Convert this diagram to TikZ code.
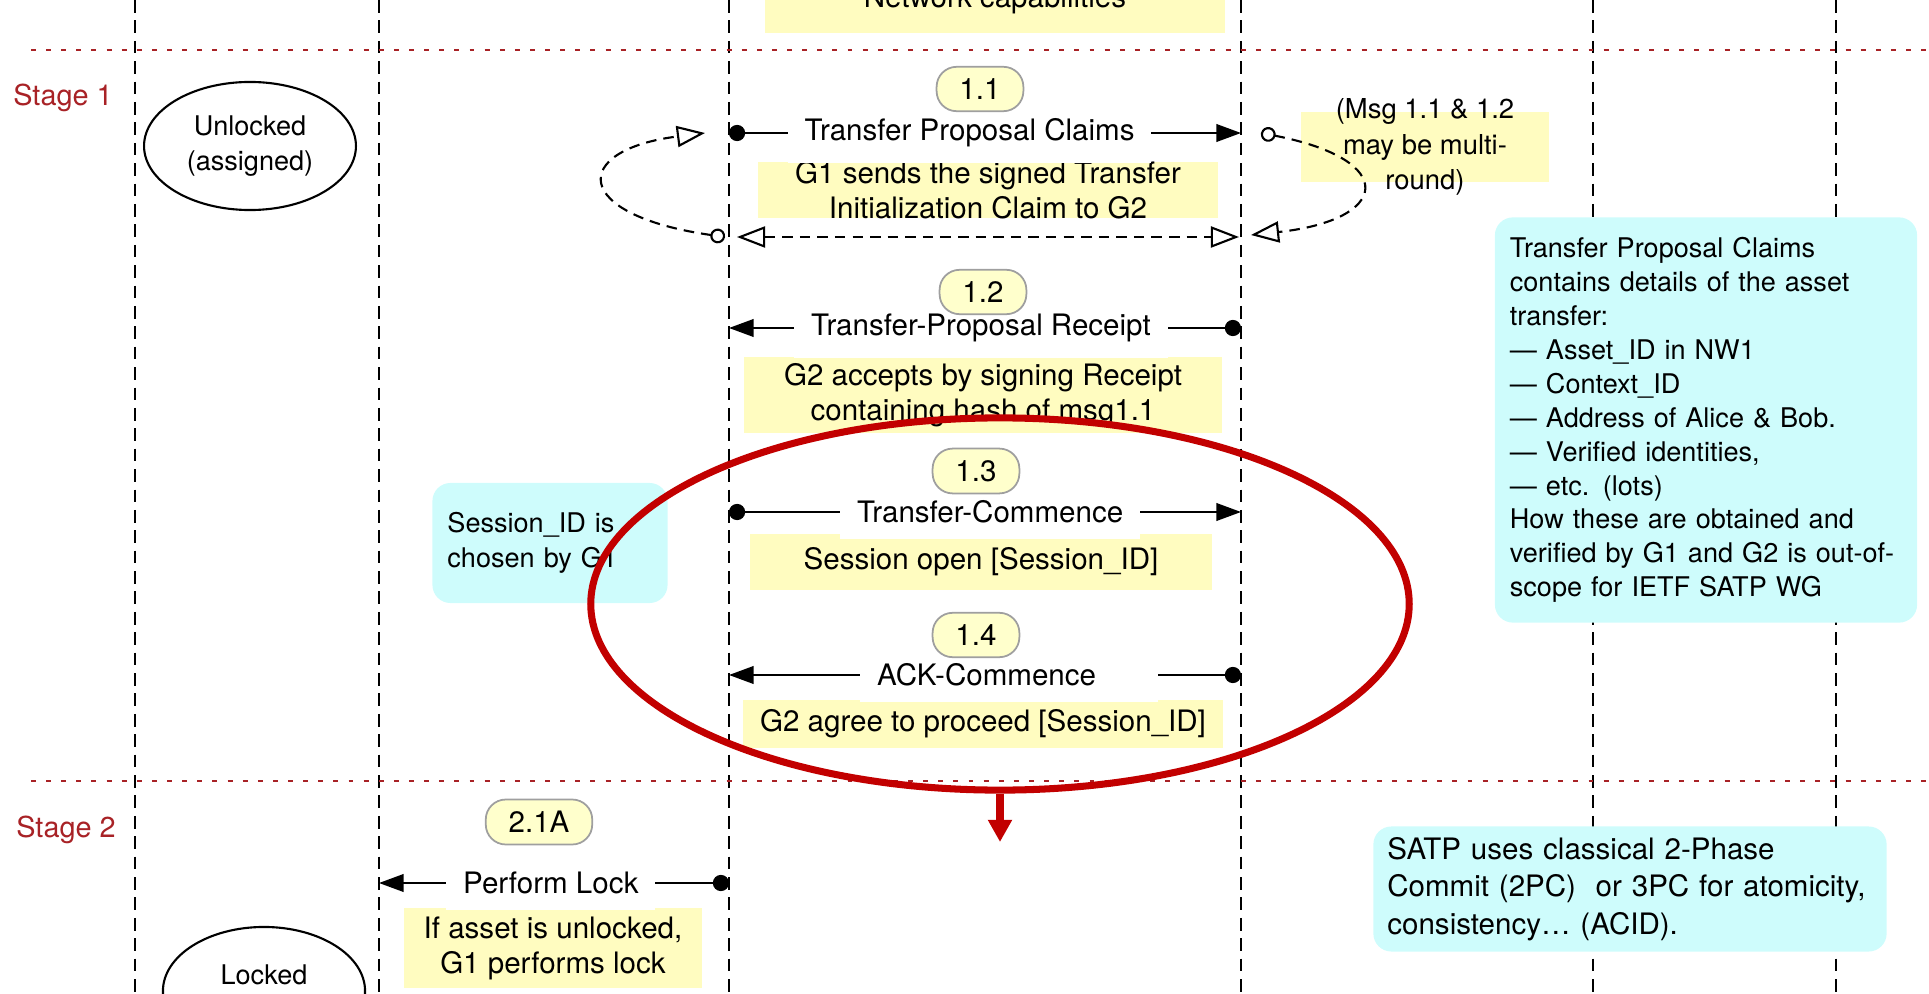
\documentclass[tikz,border=0pt]{standalone}
\usepackage{fontspec}
\setmainfont{TeX Gyre Heros}
\usetikzlibrary{shapes, positioning, arrows.meta}
\definecolor{stagered}{RGB}{168,34,38}
\definecolor{notey}{RGB}{255,252,192}
\definecolor{tagy}{RGB}{255,255,204}
\definecolor{cyanbox}{RGB}{206,252,252}
\definecolor{ringred}{RGB}{194,0,0}

\begin{document}
\begin{tikzpicture}[x=0.01cm,y=-0.01cm,>={Triangle[length=7pt,width=5pt]},
    ball/.tip={Circle[length=4.6pt]},
    ring/.tip={Circle[open,length=4.2pt]},
    hollow/.tip={Triangle[open,length=8pt,width=6pt]},
    lifeline/.style={line width=.6pt,dash pattern=on 3.6pt off 2.2pt},
    stage line/.style={stagered,line width=.6pt,dash pattern=on 1.4pt off 2.9pt},
    stage/.style={text=stagered,font=\fontsize{8.2}{10}\selectfont},
    status/.style={ellipse,draw,line width=.6pt,minimum width=2.02cm,minimum height=1.28cm,
                   align=center,font=\fontsize{7.7}{10}\selectfont},
    tag/.style={rounded corners=.2cm,draw=gray!75,fill=tagy,line width=.5pt,minimum height=.42cm,
                inner xsep=6.5pt,font=\fontsize{8.4}{10}\selectfont},
    note/.style={fill=notey,inner sep=0pt,inner ysep=-6pt,align=center,font=\fontsize{8.4}{10}\selectfont},
    memo/.style={fill=cyanbox,rounded corners=.18cm,align=left,inner xsep=.15cm,inner ysep=-6pt},
    msg/.style={line width=.6pt},
    msgtext/.style={fill=white,inner xsep=4.8pt,inner ysep=4.5pt,font=\fontsize{8.4}{10}\selectfont},
    retry/.style={line width=.6pt,dash pattern=on 3pt off 2pt}]

  \clip (0,0) rectangle (1929,994);

  \foreach \x in {135,379,729,1241,1593,1836}
    \draw[lifeline] (\x,0) -- (\x,994);
  \draw[stage line] (31,50) -- (1929,50);
  \draw[stage line] (31,781) -- (1929,781);

  \node[stage] (s1) at (63,98) {Stage 1};
  \node[stage] (s2) at (66,830) {Stage 2};

  \node[status] (unlocked) at (250,146) {Unlocked\\(assigned)};
  \node[status, text height=6pt, text depth=9.6pt] (locked) at (264,991) {Locked};

  % side remarks
  \node[memo, text width=3.92cm, minimum height=4.05cm, font=\fontsize{7.7}{9.65}\selectfont] (claims) at (1706,420)
    {Transfer Proposal Claims\\contains details of the asset\\transfer:\\— Asset\_ID in NW1\\— Context\_ID\\
     — Address of Alice \& Bob.\\— Verified identities,\\— etc. (lots)\\How these are obtained and\\
     verified by G1 and G2 is out-of-\\scope for IETF SATP WG};
  \node[memo, text width=2.05cm, minimum height=1.2cm, font=\fontsize{7.7}{10}\selectfont] (sid) at (550,543)
    {Session\_ID is\\chosen by G1};
  \node[memo, text width=4.85cm, inner xsep=.14cm, minimum height=1.25cm, font=\fontsize{8.4}{10.7}\selectfont] (satp) at (1630,889)
    {SATP uses classical 2-Phase\\Commit (2PC)\ \ or 3PC for atomicity,\\consistency… (ACID).};

  \node[note, inner ysep=0pt, minimum width=4.59cm, anchor=base, text height=20pt, text depth=7.2pt] (n0) at (995,8) {Network capabilities};
  \node[note, minimum width=4.6cm, minimum height=.55cm] (n11) at (988,190) {G1 sends the signed Transfer\\Initialization Claim to G2};
  \node[note, minimum width=4.78cm, minimum height=.76cm] (n12) at (983,395) {G2 accepts by signing Receipt\\containing hash of msg1.1};
  \node[note, minimum width=4.61cm, minimum height=.55cm] (n13) at (981,562) {Session open [Session\_ID]};
  \node[note, minimum width=4.79cm, minimum height=.48cm] (n14) at (983,724) {G2 agree to proceed [Session\_ID]};
  \node[note, minimum width=2.97cm, minimum height=.8cm] (n21) at (553,948) {If asset is unlocked,\\G1 performs lock};
  \node[note, minimum width=2.47cm, minimum height=.7cm, font=\fontsize{7.8}{10}\selectfont] (multi) at (1425,147)
    {(Msg 1.1 \& 1.2\\may be multi-\\round)};

  \foreach \n/\y in {a/133,b/328,c/512,d/675} {
    \coordinate (l\n) at (729,\y);
    \coordinate (r\n) at (1241,\y);
  }
  \coordinate (le) at (379,883);
  \coordinate (re) at (729,883);

  \path[msg]
    (la) edge[ball->] node[msgtext, pos=.47] {Transfer Proposal Claims} (ra)
    (rb) edge[ball->] node[msgtext, pos=.508] {Transfer-Proposal Receipt} (lb)
    (lc) edge[ball->] node[msgtext, pos=.51] {Transfer-Commence} (rc)
    (rd) edge[ball->] node[msgtext, pos=.453] {ACK-Commence\hspace*{12.8pt}} (ld)
    (re) edge[ball->] node[msgtext, pos=.509] {Perform Lock} (le);

  \node[tag] (t11) at (980,89) {1.1};
  \node[tag] (t12) at (983,292) {1.2};
  \node[tag] (t13) at (976,471) {1.3};
  \node[tag] (t14) at (976,635) {1.4};
  \node[tag] (t21) at (539,822) {2.1A};

  % multi-round loops
  \coordinate (ringL) at (725,237);
  \coordinate (tipL) at (705,133);
  \coordinate (ringR) at (1261,133);
  \coordinate (tipR) at (1251,235);
  \coordinate (backL) at (737,237);
  \coordinate (backR) at (1239,237);
  \draw[retry, ring-hollow] (ringL) .. controls (570,215) and (570,150) .. (tipL);
  \draw[retry, ring-hollow] (ringR) .. controls (1400,160) and (1390,220) .. (tipR);
  \draw[retry, hollow-hollow] (backL) -- (backR);

  \node[ellipse, draw=ringred, line width=2pt, minimum width=8.18cm, minimum height=3.72cm] (focus) at (1000,604) {};
  \coordinate (focusend) at (1000,842);
  \draw[ringred, line width=2pt, -{Triangle[length=6.3pt,width=6.5pt]}] (focus.south) -- (focusend);
\end{tikzpicture}
\end{document}
